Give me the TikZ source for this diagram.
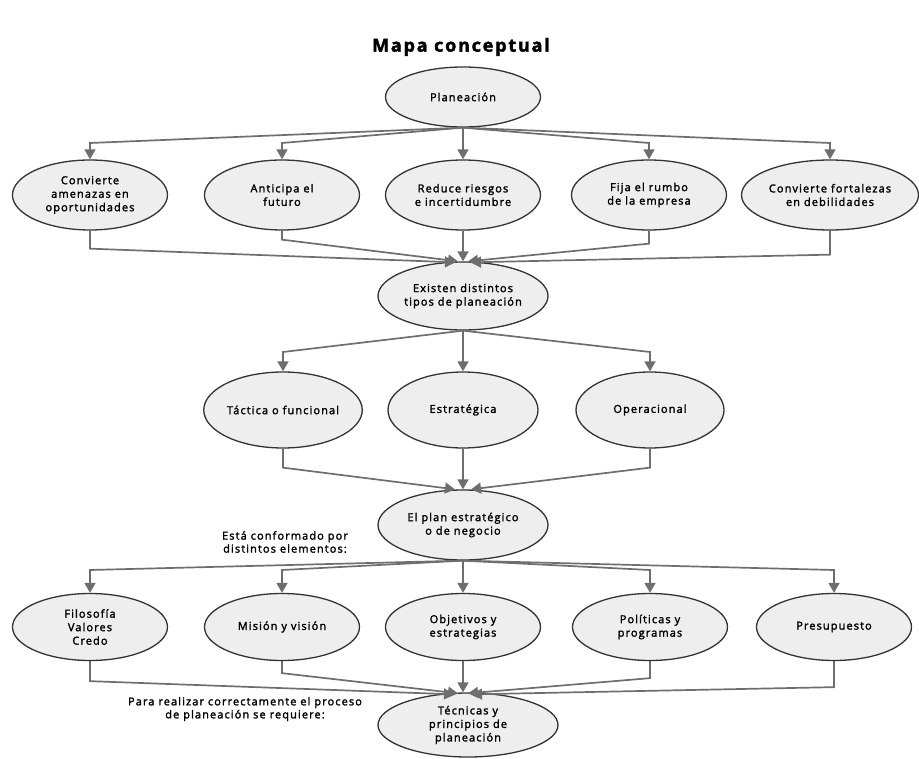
\documentclass[tikz,border=0pt]{standalone}
\usepackage{xcolor}
\usepackage{fontspec}
\setmainfont{Open Sans}[LetterSpace=10,FakeBold=2]
\usepackage{tikz}
\usetikzlibrary{positioning,arrows.meta,shapes.geometric,calc}
\definecolor{linegray}{HTML}{6E6E6E}
\definecolor{fillgray}{HTML}{EEEEEE}

\begin{document}
\begin{tikzpicture}[
  x=1pt,y=-1pt,
  concept/.style={ellipse,draw=black!80,line width=1.3pt,fill=fillgray,inner sep=0pt,
    minimum width=155pt,minimum height=70pt,align=center,font=\fontsize{11}{13.5}\selectfont},
  note/.style={align=center,font=\fontsize{11}{13}\selectfont},
  arr/.style={draw=linegray,line width=1.7pt,-{Triangle[width=11pt,length=10pt]},color=linegray}
]
\useasboundingbox (0,0) rectangle (919,759);
\node[font=\bfseries\fontsize{18}{20}\selectfont] (title) at (461,47) {Mapa conceptual};

\node[concept,minimum height=60pt] (plan) at (463,97) {Planeación};

\node[concept] (amen) at (90,195) {Convierte\\amenazas en\\oportunidades};
\node[concept] (futuro) at (282,195) {Anticipa el\\futuro};
\node[concept] (riesgo) at (463,195) {Reduce riesgos\\e incertidumbre};
\node[concept] (rumbo) at (649,195) {Fija el rumbo\\de la empresa};
\node[concept,minimum width=177pt] (fort) at (830,195) {Convierte fortalezas\\en debilidades};

\node[concept,minimum width=170pt,minimum height=68pt] (tipos) at (463,296) {Existen distintos\\tipos de planeación};

\node[concept,minimum width=152pt,minimum height=76pt] (tact) at (283,410) {Táctica o funcional};
\node[concept,minimum width=150pt,minimum height=76pt] (estr) at (463,410) {Estratégica};
\node[concept,minimum width=148pt,minimum height=76pt] (oper) at (650,410) {Operacional};

\node[concept,minimum width=170pt] (negocio) at (463,525) {El plan estratégico\\o de negocio};
\node[note] (conf) at (285,542) {Está conformado por\\distintos elementos:};

\node[concept,minimum height=67pt] (filo) at (90,627) {Filosofía\\Valores\\Credo};
\node[concept,minimum height=67pt] (mision) at (282,627) {Misión y visión};
\node[concept,minimum height=67pt] (objet) at (463,627) {Objetivos y\\estrategias};
\node[concept,minimum height=67pt] (polit) at (650,627) {Políticas y\\programas};
\node[concept,minimum height=67pt] (presu) at (834,627) {Presupuesto};

\node[concept,minimum width=180pt,minimum height=64pt] (tecn) at (468,725) {Técnicas y\\principios de\\planeación};
\node[note] (para) at (245,709) {Para realizar correctamente el proceso\\de planeación se requiere:};

\foreach \n in {amen,futuro,rumbo,fort}
  \draw[arr] (plan.south) -- (\n.north |- 0,143) -- (\n.north);
\draw[arr] (plan.south) -- (riesgo.north);

\draw[arr] (amen.south) -- ++(0,18) -- ($(tipos.north)+(-8,1)$);
\draw[arr] (futuro.south) -- ++(0,9) -- ($(tipos.north)+(-5,0)$);
\draw[arr] (riesgo.south) -- (tipos.north);
\draw[arr] (rumbo.south) -- ++(0,13) -- ($(tipos.north)+(5,0)$);
\draw[arr] (fort.south) -- ++(0,24) -- ($(tipos.north)+(8,1)$);

\foreach \n in {tact,oper}
  \draw[arr] (tipos.south) -- (\n.north |- 0,352) -- (\n.north);
\draw[arr] (tipos.south) -- (estr.north);

\draw[arr] (tact.south) -- ++(0,19) -- ($(negocio.north)+(-8,0)$);
\draw[arr] (estr.south) -- (negocio.north);
\draw[arr] (oper.south) -- ++(0,19) -- ($(negocio.north)+(8,0)$);

\foreach \n in {filo,mision,polit,presu}
  \draw[arr] (negocio.south) -- (\n.north |- 0,570) -- (\n.north);
\draw[arr] (negocio.south) -- (objet.north);

\draw[arr] (filo.south) -- ++(0,20) -- ($(tecn.north)+(-14,2)$);
\draw[arr] (mision.south) -- ++(0,12) -- ($(tecn.north)+(-10,1)$);
\draw[arr] (objet.south) -- ($(tecn.north)+(-5,0)$);
\draw[arr] (polit.south) -- ++(0,17) -- ($(tecn.north)+(0,1)$);
\draw[arr] (presu.south) -- ++(0,26) -- ($(tecn.north)+(4,2)$);
\end{tikzpicture}
\end{document}
